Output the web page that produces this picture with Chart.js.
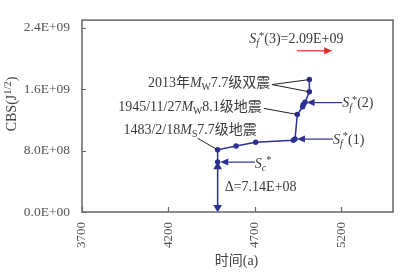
<!DOCTYPE html>
<html>
<head>
<meta charset="utf-8">
<script src="https://cdn.jsdelivr.net/npm/chart.js@4/dist/chart.umd.min.js"></script>
<style>
  html, body { margin: 0; padding: 0; background: #fff; }
  #wrap { width: 403px; height: 272px; position: relative; }
</style>
</head>
<body>
<div id="wrap"><canvas id="chart"></canvas></div>
<script>
// CBS curve (year, CBS value)
var years = [4485, 4485, 4592, 4705, 4923, 4933, 4946, 4977, 4981, 4991, 5016, 5016];
var cbs = [6.5e8, 8.1e8, 8.6e8, 9.1e8, 9.34e8, 9.5e8, 1.27e9, 1.37e9, 1.40e9, 1.43e9, 1.566e9, 1.725e9];

// delta arrow (0 -> Sc*)
var deltaYears = [4485, 4485];
var deltaCbs = [0.6e8, 5.9e8];

var xTicks = [3700, 4200, 4700, 5200];
var yTicks = [0, 8e8, 1.6e9, 2.4e9];
var yTickLabels = ['0.0E+00', '8.0E+08', '1.6E+09', '2.4E+09'];

var navy = '#2e3192';
var txt = '#3a3a3a';
var serif = '"Liberation Serif", "Noto Sans CJK SC", serif';

// annotations, in data coordinates
var notes = [
  { x: 4668, y: 2.25e9, align: 'left', parts: [['S', 'i'], ['f', 'isub'], ['*', 'sup'], ['(3)=2.09E+09', '']] },
  { x: 4790, y: 1.675e9, align: 'right', parts: [['2013年', ''], ['M', 'i'], ['W', 'sub'], ['7.7级双震', '']] },
  { x: 4741, y: 1.36e9, align: 'right', parts: [['1945/11/27', ''], ['M', 'i'], ['W', 'sub'], ['8.1级地震', '']] },
  { x: 3940, y: 1.06e9, align: 'left', parts: [['1483/2/18', ''], ['M', 'i'], ['S', 'sub'], ['7.7级地震', '']] },
  { x: 5206, y: 1.41e9, align: 'left', parts: [['S', 'i'], ['f', 'isub'], ['*', 'sup'], ['(2)', '']] },
  { x: 5153, y: 0.94e9, align: 'left', parts: [['S', 'i'], ['f', 'isub'], ['*', 'sup'], ['(1)', '']] },
  { x: 4700, y: 6.25e8, align: 'left', parts: [['S', 'i'], ['c', 'isub'], ['*', 'sup']] },
  { x: 4526, y: 3.25e8, align: 'left', parts: [['Δ=7.14E+08', '']] }
];
var leaders = [
  [4799, 1.66e9, 5016, 1.725e9],
  [4799, 1.66e9, 5016, 1.566e9],
  [4752, 1.35e9, 4946, 1.27e9],
  [4369, 0.96e9, 4485, 8.1e8]
];
var arrows = [
  { from: [4700, 6.5e8], to: [4500, 6.5e8], color: navy },
  { from: [5153, 0.95e9], to: [4944, 0.95e9], color: navy },
  { from: [5206, 1.425e9], to: [5000, 1.425e9], color: navy },
  { from: [4944, 2.1e9], to: [5148, 2.1e9], color: '#e8262a' }
];

function partFont(style, size) {
  if (style === 'sup') return (size * 0.75) + 'px ' + serif;
  var s = style.indexOf('sub') >= 0 ? size * 0.7 : size;
  return (style.indexOf('i') === 0 ? 'italic ' : '') + s + 'px ' + serif;
}

function drawRich(ctx, parts, x, y, align, size) {
  var w = 0;
  parts.forEach(function (p) {
    ctx.font = partFont(p[1], size);
    w += ctx.measureText(p[0]).width;
  });
  var cx = align === 'right' ? x - w : (align === 'center' ? x - w / 2 : x);
  ctx.textAlign = 'left';
  ctx.textBaseline = 'middle';
  parts.forEach(function (p) {
    ctx.font = partFont(p[1], size);
    var dy = p[1].indexOf('sub') >= 0 ? size * 0.3 : (p[1] === 'sup' ? -size * 0.25 : 0);
    ctx.fillText(p[0], cx, y + dy);
    cx += ctx.measureText(p[0]).width;
  });
}

var overlay = {
  id: 'overlay',
  afterDraw: function (chart) {
    var ctx = chart.ctx;
    var xs = chart.scales.x, ys = chart.scales.y;
    var a = chart.chartArea;
    ctx.save();

    // frame and inward ticks
    ctx.strokeStyle = '#666';
    ctx.lineWidth = 1.5;
    ctx.strokeRect(a.left, a.top, a.right - a.left, a.bottom - a.top);
    ctx.lineWidth = 1.2;
    ctx.beginPath();
    xTicks.forEach(function (v) {
      var px = Math.round(xs.getPixelForValue(v)) + 0.5;
      ctx.moveTo(px, a.bottom); ctx.lineTo(px, a.bottom - 5);
    });
    yTicks.forEach(function (v) {
      var py = Math.round(ys.getPixelForValue(v)) + 0.5;
      ctx.moveTo(a.left, py); ctx.lineTo(a.left + 4, py);
    });
    ctx.stroke();

    // leader lines
    ctx.strokeStyle = '#222';
    ctx.lineWidth = 1;
    leaders.forEach(function (l) {
      ctx.beginPath();
      ctx.moveTo(xs.getPixelForValue(l[0]), ys.getPixelForValue(l[1]));
      ctx.lineTo(xs.getPixelForValue(l[2]), ys.getPixelForValue(l[3]));
      ctx.stroke();
    });

    // arrows
    arrows.forEach(function (ar) {
      var x1 = xs.getPixelForValue(ar.from[0]), y1 = ys.getPixelForValue(ar.from[1]);
      var x2 = xs.getPixelForValue(ar.to[0]), y2 = ys.getPixelForValue(ar.to[1]);
      var ang = Math.atan2(y2 - y1, x2 - x1);
      var hl = 8, hw = 3.5;
      ctx.strokeStyle = ar.color;
      ctx.fillStyle = ar.color;
      ctx.lineWidth = 1.2;
      ctx.beginPath();
      ctx.moveTo(x1, y1);
      ctx.lineTo(x2 - hl * Math.cos(ang), y2 - hl * Math.sin(ang));
      ctx.stroke();
      ctx.beginPath();
      ctx.moveTo(x2, y2);
      ctx.lineTo(x2 - hl * Math.cos(ang) - hw * Math.sin(ang), y2 - hl * Math.sin(ang) + hw * Math.cos(ang));
      ctx.lineTo(x2 - hl * Math.cos(ang) + hw * Math.sin(ang), y2 - hl * Math.sin(ang) - hw * Math.cos(ang));
      ctx.closePath();
      ctx.fill();
    });

    // text notes
    ctx.fillStyle = txt;
    notes.forEach(function (n) {
      drawRich(ctx, n.parts, xs.getPixelForValue(n.x), ys.getPixelForValue(n.y), n.align, 14);
    });

    // axis titles
    ctx.fillStyle = '#444';
    drawRich(ctx, [['时间(a)', '']], (a.left + a.right) / 2 - 1, 261, 'center', 14);
    ctx.translate(12, 104);
    ctx.rotate(-Math.PI / 2);
    drawRich(ctx, [['CBS(J', ''], ['1/2', 'sup'], [')', '']], 0, 0, 'center', 14);
    ctx.restore();
  }
};

var ctx = document.getElementById('chart').getContext('2d');
new Chart(ctx, {
  type: 'line',
  data: {
    datasets: [
      {
        data: years.map(function (y, i) { return { x: y, y: cbs[i] }; }),
        borderColor: navy,
        backgroundColor: navy,
        borderWidth: 1.5,
        pointRadius: 2,
        pointStyle: 'circle',
        tension: 0,
        clip: false
      },
      {
        data: deltaYears.map(function (y, i) { return { x: y, y: deltaCbs[i] }; }),
        borderColor: navy,
        backgroundColor: navy,
        borderWidth: 1.5,
        pointStyle: 'triangle',
        pointRadius: 3.5,
        rotation: [180, 0],
        tension: 0,
        clip: false
      }
    ]
  },
  options: {
    responsive: true,
    maintainAspectRatio: false,
    animation: false,
    layout: { padding: { top: 11, right: 10, left: 0, bottom: 0 } },
    plugins: { legend: { display: false }, tooltip: { enabled: false } },
    scales: {
      x: {
        type: 'linear',
        min: 3700,
        max: 5500,
        grid: { display: false, drawTicks: false },
        border: { display: false },
        afterBuildTicks: function (scale) { scale.ticks = xTicks.map(function (v) { return { value: v }; }); },
        afterFit: function (scale) { scale.height = 60; },
        ticks: {
          minRotation: 90,
          maxRotation: 90,
          padding: 10,
          color: '#555',
          font: { family: serif, size: 13 },
          callback: function (v) { return String(v); }
        }
      },
      y: {
        type: 'linear',
        min: 0,
        max: 2.5e9,
        grid: { display: false, drawTicks: false },
        border: { display: false },
        afterBuildTicks: function (scale) { scale.ticks = yTicks.map(function (v) { return { value: v }; }); },
        afterFit: function (scale) { scale.width = 82; },
        ticks: {
          padding: 12,
          color: '#555',
          font: { family: serif, size: 13.5 },
          callback: function (v) { return yTickLabels[yTicks.indexOf(v)]; }
        }
      }
    }
  },
  plugins: [overlay]
});
</script>
</body>
</html>
